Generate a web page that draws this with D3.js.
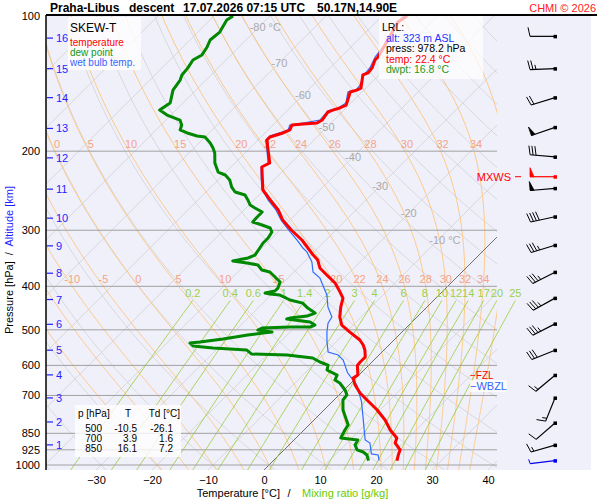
<!DOCTYPE html>
<html>
<head>
<meta charset="utf-8">
<script src="https://cdn.jsdelivr.net/npm/d3@7"></script>
<style>
  body { margin: 0; background: #fff; }
  svg { display: block; font-family: "Liberation Sans", Arial, sans-serif; }
</style>
</head>
<body>
<div id="chart"></div>
<script>
// sounding values (pressure hPa / temperature °C)
const tempP = [100, 103.1, 109.1, 116, 123.4, 125.3, 130.5, 133.9, 135.3, 138.9, 144.7, 146.2, 147.7, 153.9, 157.9, 160.3, 162, 163.6, 170.5, 173.1, 174, 174.9, 179.4, 182.2, 186, 188.9, 198.9, 212.5, 216.9, 226, 244.1, 256.9, 270.4, 284.7, 300, 315.4, 328.6, 340.7, 349.5, 364.1, 377.5, 393.2, 411.9, 424.8, 444.7, 468.1, 487.8, 505.7, 526.8, 540.5, 554.6, 574.7, 589.6, 600, 630.5, 640.2, 663.6, 691.4, 716.6, 754.3, 794, 835.6, 870.7, 893.3, 925, 950, 978.2]
const tempT = [-55.5, -56.1, -55.2, -54.3, -53.4, -53.4, -52.5, -52.3, -52.9, -52.1, -50.9, -51.3, -52.1, -51.1, -50.5, -51.1, -52.0, -52.5, -52.1, -52.5, -54.8, -56.6, -56.1, -56.8, -58.4, -58.4, -56.4, -53.8, -54.5, -53.0, -50.2, -47.1, -43.9, -41.3, -37.9, -34.3, -31.8, -29.6, -27.9, -26.1, -23.6, -20.7, -18.2, -16.6, -15.4, -13.8, -12.0, -9.3, -6.1, -4.6, -3.4, -2.1, -2.1, -2.0, -0.2, -0.5, 1.1, 3.4, 5.9, 9.5, 12.7, 15.4, 18.0, 18.6, 20.7, 21.3, 22.1]

const dewP = [100, 102.1, 108.6, 113.1, 117.2, 122.1, 125.3, 130.5, 135.3, 138.9, 146.2, 153.9, 156.2, 162, 166.2, 170.5, 174.9, 179.4, 182.2, 185, 186, 191.8, 196.8, 201.9, 212.5, 222.6, 226, 231.9, 240.4, 246.6, 250.4, 256.9, 263.6, 267.7, 273.2, 280.3, 287.6, 292.1, 296.6, 302.7, 312.1, 320.3, 328.6, 340.7, 345.9, 351.3, 354.9, 358.5, 367.9, 371.7, 381.3, 391.2, 403.6, 409.8, 414.1, 416.2, 418.3, 429.1, 435.9, 447.2, 458.8, 465.9, 470.7, 473.1, 480.4, 487.8, 492.8, 492.9, 495.4, 500.5, 505.7, 508.2, 513.5, 524.1, 532.3, 535, 543.3, 548.9, 554.6, 566.1, 568.9, 577.8, 589.6, 598.9, 614.4, 630.5, 646.8, 656.8, 680.8, 698.2, 716.6, 754.3, 814.6, 835.6, 870.7, 879.5, 902.5, 925, 935.5, 950, 978.2]
const dewT = [-86.6, -87.0, -86.1, -86.4, -85.7, -85.2, -85.9, -85.4, -85.2, -84.6, -84.1, -82.7, -82.3, -82.9, -80.7, -77.5, -76.3, -75.7, -73.9, -71.6, -70.0, -68.0, -66.6, -65.4, -63.6, -61.4, -59.6, -57.9, -56.3, -54.8, -52.5, -51.1, -49.8, -48.4, -46.4, -46.4, -46.3, -44.1, -42.1, -41.1, -40.7, -40.7, -40.4, -40.0, -40.7, -42.9, -40.0, -37.7, -36.1, -34.3, -32.5, -30.7, -30.0, -30.0, -31.4, -30.4, -28.4, -25.7, -22.9, -21.1, -18.9, -19.8, -22.5, -22.9, -18.2, -16.8, -17.3, -20.9, -25.7, -26.1, -23.2, -24.6, -27.0, -30.7, -34.3, -35.9, -34.8, -30.9, -24.5, -22.9, -16.4, -11.3, -9.3, -7.3, -6.6, -3.9, -3.4, -2.0, 0.2, 1.4, 1.6, 3.4, 7.0, 7.3, 8.0, 11.4, 11.8, 13.0, 14.5, 15.7, 17.0]

const wetP = [100, 104.2, 110.2, 117.2, 123.4, 130.5, 135.3, 142.5, 146.2, 147.7, 156.2, 160.3, 162.8, 170.5, 173.1, 174.9, 179.4, 185, 188.9, 198.9, 212.5, 216.9, 226, 242, 256.9, 270.4, 284.7, 300, 315.4, 328.6, 335.2, 353, 371.7, 383.3, 397.6, 418.3, 444.7, 468.1, 483, 505.7, 532.3, 560.5, 568.9, 583.7, 622.4, 663.6, 722.5, 781.5, 879.5, 893.3, 944.6, 950, 978.2]
const wetT = [-56.1, -56.1, -55.2, -54.3, -53.9, -52.9, -52.7, -51.6, -51.4, -52.5, -50.9, -51.4, -52.7, -52.5, -55.0, -57.0, -56.4, -58.6, -58.6, -56.6, -54.1, -54.6, -53.2, -50.7, -47.5, -44.3, -41.6, -38.4, -35.2, -32.7, -31.3, -28.6, -26.6, -24.3, -22.5, -20.0, -17.7, -15.2, -14.8, -13.4, -11.6, -9.6, -7.3, -5.5, -2.5, 1.4, 5.2, 8.2, 12.7, 14.1, 16.3, 17.7, 18.9]

// axes and reference lines
const pressTicks = [100, 200, 300, 400, 500, 600, 700, 850, 925, 1000]
const tempTicks = [-30, -20, -10, 0, 10, 20, 30, 40]
const altKm = [1, 2, 3, 4, 5, 6, 7, 8, 9, 10, 11, 12, 13, 14, 15, 16]
const altP = [902, 802, 709, 630, 555, 486, 428, 374, 325, 282, 243, 207, 178, 152, 131, 112]
const isoLabelT = [-80, -70, -60, -50, -40, -30, -20, -10]
const isoLabelP = [106, 127, 150, 177, 206, 239, 275, 315]
const moistThetaW = [-20, -15, -10, -5, 0, 5, 10, 15, 20, 22, 24, 26, 28, 30, 32, 34, 36]
const moistLabelsTop = [0, 5, 10, 15, 20, 22, 24, 26, 28, 30, 32, 34]
const moistLabelsMid = [-10, -5, 0, 5, 10, 15, 20, 22, 24, 26, 28, 30, 32, 34]
const mixRatios = [0.2, 0.4, 0.6, 1, 1.4, 2, 3, 4, 6, 8, 10, 12, 14, 17, 20, 25]
const mixTopP = 430

// wind: pressure, direction (deg), speed (kt)
const windP = [111, 131, 152, 177, 206, 242, 280, 324, 372, 425, 485, 555, 631, 709, 806, 903, 978]
const windDir = [270, 268, 253, 251, 275, 265, 258, 253, 243, 241, 243, 248, 230, 202, 229, 254, 263]
const windKt = [10, 25, 20, 50, 30, 50, 40, 35, 35, 35, 35, 30, 15, 15, 10, 15, 5]
const mxwsP = 228, mxwsDir = 270, mxwsKt = 50
const fzlP = 640, wbzlP = 667

const lrlLines = [["LRL:", "#000"], ["alt: 323 m ASL", "#2233ff"], ["press: 978.2 hPa", "#000"], ["temp: 22.4 °C", "#ff0000"], ["dwpt: 16.8 °C", "#229922"]]
const tableHead = ["p [hPa]", "T", "Td [°C]"]
const tableRows = [["500", "-10.5", "-26.1"], ["700", "3.9", "1.6"], ["850", "16.1", "7.2"]]

const W = 600, H = 500
const plotL = 46, plotR = 497, plotT = 16, plotB = 470, bgRight = 591, barbX = 555

const svg = d3.select("#chart").append("svg")
    .attr("width", W).attr("height", H)
svg.append("rect").attr("width", W).attr("height", H).attr("fill", "#fff")
svg.append("rect")
    .attr("x", plotL).attr("y", plotT)
    .attr("width", bgRight - plotL).attr("height", plotB - plotT)
    .attr("fill", "#f0f0fb")

const yScale = d3.scaleLog().domain([100, 1000]).range([16, 465])
const xScale = d3.scaleLinear().domain([0, 10]).range([264, 320]) // temperature at bottom edge
const pBot = yScale.invert(plotB)
const skewX = (T, p) => xScale(T) + (plotB - yScale(p))
const line = d3.line().x(d => skewX(d[1], d[0])).y(d => yScale(d[0]))

svg.append("clipPath").attr("id", "plotClip").append("rect")
    .attr("x", plotL).attr("y", plotT).attr("width", plotR - plotL).attr("height", plotB - plotT)
const grid = svg.append("g").attr("clip-path", "url(#plotClip)")

// isotherms
d3.range(-130, 50, 10).forEach(T => {
    grid.append("path").attr("d", line([[pBot, T], [100, T]]))
        .attr("stroke", "#d2d2d2").attr("stroke-width", 0.8).attr("fill", "none")
})
// dry adiabats
const pLevels = d3.range(100, pBot, 10).concat([pBot])
d3.range(-40, 190, 10).forEach(th => {
    const pts = pLevels.map(p => [p, (th + 273.15) * Math.pow(p / 1000, 0.2857) - 273.15])
    grid.append("path").attr("d", line(pts))
        .attr("stroke", "#d2d2d2").attr("stroke-width", 0.8).attr("fill", "none")
})

// moist adiabats
const esat = Tc => 6.112 * Math.exp(17.67 * Tc / (Tc + 243.5))
function lapse(p, Tk) {
    const Rd = 287.04, Cp = 1005.7, Lv = 2.501e6, eps = 0.622
    const es = esat(Tk - 273.15)
    const rs = eps * es / (p - es)
    return (1 / p) * (Rd * Tk + Lv * rs) / (Cp + (Lv * Lv * rs * eps) / (Rd * Tk * Tk))
}
function rk(p, T, dp) {
    const k1 = lapse(p, T), k2 = lapse(p + dp / 2, T + k1 * dp / 2)
    const k3 = lapse(p + dp / 2, T + k2 * dp / 2), k4 = lapse(p + dp, T + k3 * dp)
    return T + dp * (k1 + 2 * k2 + 2 * k3 + k4) / 6
}
function moistLine(thw) {
    const lower = [[1000, thw]]
    let T = thw + 273.15, p = 1000
    while (p < pBot) { const dp = Math.min(4, pBot - p); T = rk(p, T, dp); p += dp; lower.push([p, T - 273.15]) }
    const upper = []
    T = thw + 273.15; p = 1000
    while (p > 100) { const dp = -Math.min(4, p - 100); T = rk(p, T, dp); p += dp; upper.push([p, T - 273.15]) }
    return lower.reverse().concat(upper)
}
function tempAt(pts, p) {
    for (let i = 1; i < pts.length; i++) {
        const a = pts[i - 1], b = pts[i]
        if ((a[0] - p) * (b[0] - p) <= 0) return a[1] + (b[1] - a[1]) * (p - a[0]) / (b[0] - a[0])
    }
    return null
}
const moist = {}
moistThetaW.forEach(t => {
    moist[t] = moistLine(t)
    grid.append("path").attr("d", line(moist[t]))
        .attr("stroke", "#ffc47a").attr("stroke-width", 0.9).attr("fill", "none")
})

// mixing ratio lines
const mixP = d3.range(mixTopP, pBot, 10).concat([pBot])
const tdFromW = (w, p) => { const e = w * p / (622 + w); const l = Math.log(e / 6.112); return 243.5 * l / (17.67 - l) }
const mixG = svg.append("g")
mixRatios.forEach(w => {
    mixG.append("path").attr("d", line(mixP.map(p => [p, tdFromW(w, p)])))
        .attr("stroke", "#99cc33").attr("stroke-width", 0.8).attr("fill", "none")
    mixG.append("text")
        .attr("x", skewX(tdFromW(w, mixTopP), mixTopP)).attr("y", yScale(mixTopP) - 3)
        .attr("text-anchor", "middle").attr("font-size", 11).attr("fill", "#9ad14b")
        .text(w)
})

// isobars
pressTicks.slice(1).forEach(p => {
    svg.append("line").attr("x1", plotL).attr("x2", plotR)
        .attr("y1", yScale(p)).attr("y2", yScale(p))
        .attr("stroke", "#a0a0a0").attr("stroke-width", 1)
})
// 0 °C isotherm
grid.append("path").attr("d", line([[pBot, 0], [100, 0]]))
    .attr("stroke", "#555").attr("stroke-width", 0.8).attr("fill", "none")

// moist adiabat labels
moistLabelsTop.forEach(t => {
    svg.append("text").attr("x", skewX(tempAt(moist[t], 200), 200) + 2).attr("y", yScale(200) - 3)
        .attr("text-anchor", "middle").attr("font-size", 11).attr("fill", "#f5a385").text(t)
})
moistLabelsMid.forEach(t => {
    svg.append("text").attr("x", skewX(tempAt(moist[t], 400), 400)).attr("y", yScale(400) - 3)
        .attr("text-anchor", "middle").attr("font-size", 11).attr("fill", "#f5a385").text(t)
})
// isotherm labels
isoLabelT.forEach((t, i) => {
    const edge = i === 0 || i === isoLabelT.length - 1
    svg.append("text").attr("x", skewX(t, isoLabelP[i]) + (edge ? -9 : 0)).attr("y", yScale(isoLabelP[i]) + 4)
        .attr("text-anchor", edge ? "start" : "middle").attr("font-size", 11).attr("fill", "#aaaaaa")
        .text(edge ? t + " °C" : t)
})

// profiles
const profile = (P, T) => P.map((p, i) => [p, T[i]])
svg.append("path").attr("d", line(profile(wetP, wetT)))
    .attr("stroke", "#2f6cff").attr("stroke-width", 1.2).attr("fill", "none")
svg.append("path").attr("d", line(profile(dewP, dewT)))
    .attr("stroke", "#008800").attr("stroke-width", 3).attr("fill", "none").attr("stroke-linejoin", "round")
svg.append("path").attr("d", line(profile(tempP, tempT)))
    .attr("stroke", "#ff0000").attr("stroke-width", 3).attr("fill", "none").attr("stroke-linejoin", "round")

// legend box
svg.append("rect").attr("x", 68).attr("y", 17).attr("width", 73).attr("height", 53)
    .attr("fill", "#fff").attr("opacity", 0.8)
svg.append("text").attr("x", 70).attr("y", 32).attr("font-size", 12).text("SKEW-T")
const legendItems = [["temperature", "#ff0000"], ["dew point", "#119911"], ["wet bulb temp.", "#3366ff"]]
legendItems.forEach((d, i) => {
    svg.append("text").attr("x", 70).attr("y", 46 + i * 10).attr("font-size", 10).attr("fill", d[1]).text(d[0])
})

// LRL box
svg.append("rect").attr("x", 379).attr("y", 15).attr("width", 104).attr("height", 64)
    .attr("fill", "#fff").attr("opacity", 0.7)
lrlLines.forEach((d, i) => {
    svg.append("text").attr("x", i === 0 ? 382 : 386).attr("y", 31 + i * 10.5)
        .attr("font-size", 10.5).attr("fill", d[1]).text(d[0])
})

// table
svg.append("rect").attr("x", 75).attr("y", 405).attr("width", 106).attr("height", 52)
    .attr("fill", "#fff").attr("opacity", 0.8)
const colX = [102, 137, 173]
svg.append("text").attr("x", 78).attr("y", 417).attr("font-size", 10).text(tableHead[0])
svg.append("text").attr("x", 128).attr("y", 417).attr("font-size", 10).attr("text-anchor", "middle").text(tableHead[1])
svg.append("text").attr("x", 180).attr("y", 417).attr("font-size", 10).attr("text-anchor", "end").text(tableHead[2])
tableRows.forEach((r, i) => {
    r.forEach((v, j) => {
        svg.append("text").attr("x", colX[j]).attr("y", 432 + i * 10)
            .attr("font-size", 10).attr("text-anchor", "end").text(v)
    })
})

// freezing levels
svg.append("text").attr("x", 470).attr("y", yScale(fzlP) + 1).attr("font-size", 10).attr("fill", "#ff0000").text("\u2212FZL")
svg.append("rect").attr("x", 470).attr("y", 380).attr("width", 37).attr("height", 12).attr("fill", "#fff").attr("opacity", 0.8)
svg.append("text").attr("x", 470).attr("y", yScale(wbzlP) + 4).attr("font-size", 11).attr("fill", "#3366ff").text("\u2212WBZL")

// wind barbs
function barb(p, dir, kt, color) {
    const g = svg.append("g").attr("stroke", color).attr("fill", color)
    const sy = yScale(p), L = 25, fl = 9
    const a = dir * Math.PI / 180
    const ux = Math.sin(a), uy = -Math.cos(a)
    const fx = -uy, fy = ux
    g.append("line").attr("x1", barbX).attr("y1", sy).attr("x2", barbX + ux * L).attr("y2", sy + uy * L).attr("stroke-width", 1.2)
    g.append("rect").attr("x", barbX - 1.5).attr("y", sy - 1.5).attr("width", 3.5).attr("height", 3.5).attr("stroke", "none")
    let d = L, rest = Math.round(kt / 5) * 5
    while (rest >= 50) {
        const bx = barbX + ux * d, by = sy + uy * d
        const cx = barbX + ux * (d - 4), cy = sy + uy * (d - 4)
        g.append("path").attr("d", `M${bx},${by}L${bx + fx * fl},${by + fy * fl}L${cx},${cy}Z`).attr("stroke-width", 0.8)
        d -= 6; rest -= 50
    }
    while (rest >= 10) {
        const bx = barbX + ux * d, by = sy + uy * d
        g.append("line").attr("x1", bx).attr("y1", by)
            .attr("x2", bx + fx * fl + ux * 2).attr("y2", by + fy * fl + uy * 2).attr("stroke-width", 1)
        d -= 3; rest -= 10
    }
    if (rest >= 5) {
        const bx = barbX + ux * d, by = sy + uy * d
        g.append("line").attr("x1", bx).attr("y1", by)
            .attr("x2", bx + fx * fl / 2 + ux).attr("y2", by + fy * fl / 2 + uy).attr("stroke-width", 1)
    }
}
windP.forEach((p, i) => barb(p, windDir[i], windKt[i], i === windP.length - 1 ? "#0000ee" : "#000"))
barb(mxwsP, mxwsDir, mxwsKt, "#ff0000")
svg.append("text").attr("x", 511).attr("y", yScale(mxwsP) + 4).attr("text-anchor", "end")
    .attr("font-size", 11).attr("fill", "#ff0000").text("MXWS")
svg.append("line").attr("x1", 515).attr("x2", 521).attr("y1", yScale(mxwsP)).attr("y2", yScale(mxwsP))
    .attr("stroke", "#ff0000").attr("stroke-width", 1)

// axes
const yAxis = d3.axisLeft(yScale).tickValues(pressTicks).tickFormat(d3.format("d")).tickSize(0).tickPadding(6)
const yg = svg.append("g").attr("transform", `translate(${plotL},0)`).call(yAxis)
yg.select(".domain").remove()
yg.selectAll("text").attr("font-size", 11).attr("font-family", null).attr("fill", "#000")

const xAxis = d3.axisBottom(xScale).tickValues(tempTicks).tickSize(0).tickPadding(6)
const xg = svg.append("g").attr("transform", `translate(0,${plotB})`).call(xAxis)
xg.select(".domain").remove()
xg.selectAll("text").attr("font-size", 11).attr("font-family", null).attr("fill", "#000")

svg.append("line").attr("x1", plotL).attr("x2", plotL).attr("y1", 15).attr("y2", plotB)
    .attr("stroke", "#000").attr("stroke-width", 1.5)
svg.append("line").attr("x1", plotL).attr("x2", 597).attr("y1", 15).attr("y2", 15)
    .attr("stroke", "#000").attr("stroke-width", 2)

// altitude ticks
altKm.forEach((k, i) => {
    const yy = yScale(altP[i])
    svg.append("line").attr("x1", 47).attr("x2", 53).attr("y1", yy).attr("y2", yy)
        .attr("stroke", "#1f1fff").attr("stroke-width", 1.2)
    svg.append("text").attr("x", 56).attr("y", yy + 4).attr("font-size", 11).attr("fill", "#1f1fff").text(k)
})

// titles
const titleParts = [["Praha-Libus", 50], ["descent", 129], ["17.07.2026 07:15 UTC", 183], ["50.17N,14.90E", 317]]
titleParts.forEach(d => {
    svg.append("text").attr("x", d[1]).attr("y", 12).attr("font-size", 12).attr("font-weight", "bold").text(d[0])
})
svg.append("text").attr("x", 596).attr("y", 12).attr("text-anchor", "end")
    .attr("font-size", 11).attr("fill", "#ff2020").text("CHMI \u00a9 2026")

svg.append("text").attr("x", 280).attr("y", 497).attr("text-anchor", "end").attr("font-size", 11).text("Temperature [°C]")
svg.append("text").attr("x", 289).attr("y", 497).attr("text-anchor", "middle").attr("font-size", 11).text("/")
svg.append("text").attr("x", 302).attr("y", 497).attr("font-size", 11).attr("fill", "#66cc00").text("Mixing ratio [g/kg]")

const yt = svg.append("text").attr("transform", "translate(13,334) rotate(-90)")
    .attr("font-size", 11).attr("xml:space", "preserve")
yt.append("tspan").attr("fill", "#000").text("Pressure [hPa]  /  ")
yt.append("tspan").attr("fill", "#1f1fff").text("Altitude [km]")
</script>
</body>
</html>
